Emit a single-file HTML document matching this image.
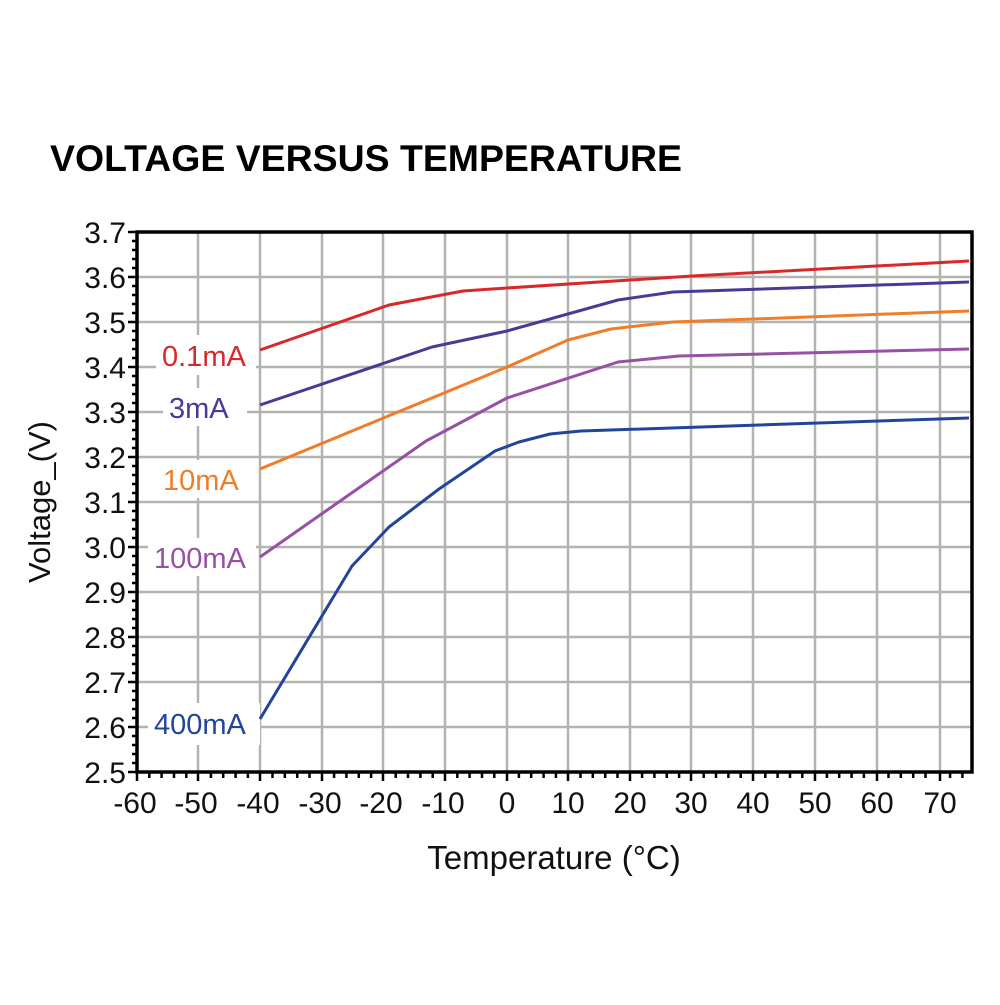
<!DOCTYPE html>
<html><head><meta charset="utf-8"><style>html,body{margin:0;padding:0;background:#fff}</style></head>
<body>
<svg width="1000" height="1000" viewBox="0 0 1000 1000" xmlns="http://www.w3.org/2000/svg" font-family="Liberation Sans, sans-serif">
<rect width="1000" height="1000" fill="#fff"/>
<text x="50" y="171" font-size="37" font-weight="bold" textLength="632" lengthAdjust="spacingAndGlyphs">VOLTAGE VERSUS TEMPERATURE</text>
<g stroke="#b3b3b0" stroke-width="2.5" fill="none">
<path d="M198 232V772M260 232V772M322 232V772M383 232V772M445 232V772M507 232V772M568 232V772M630 232V772M691 232V772M753 232V772M815 232V772M877 232V772M940 232V772"/>
<path d="M137 277H972M137 322H972M137 367H972M137 412H972M137 457H972M137 502H972M137 547H972M137 592H972M137 637H972M137 682H972M137 727H972"/>
</g>
<g fill="#fff">
<rect x="156" y="335" width="100" height="40"/>
<rect x="163" y="388" width="84" height="38"/>
<rect x="156" y="460" width="100" height="38"/>
<rect x="148" y="538" width="108" height="38"/>
<rect x="148" y="703" width="112" height="42"/>
</g>
<g fill="none" stroke-width="3" stroke-linejoin="round">
<path stroke="#d9282a" d="M260 350L389 305L463 291L507 288L692 276L969 261"/>
<path stroke="#4a3a96" d="M260 405L432 347L507 331L618 300L673 292L969 282"/>
<path stroke="#ef7d2a" d="M260 469L507 367L568 340L611 329L673 322L969 311"/>
<path stroke="#9650a6" d="M260 557L426 441L507 398L618 362L679 356L969 349"/>
<path stroke="#22459a" d="M260 719L352 566L389 527L439 489L495 451L519 442L550 434L581 431L969 418"/>
</g>
<g font-size="29">
<text x="162" y="366" fill="#d9282a">0.1mA</text>
<text x="169" y="418" fill="#4a3a96">3mA</text>
<text x="163" y="490" fill="#ef7d2a">10mA</text>
<text x="154" y="568" fill="#9650a6">100mA</text>
<text x="154" y="734" fill="#22459a">400mA</text>
</g>
<path d="M137 232H972V772H137Z" fill="none" stroke="#000" stroke-width="3.5"/>
<g stroke="#000" stroke-width="2.5">
<path d="M128 232H137M128 277H137M128 322H137M128 367H137M128 412H137M128 457H137M128 502H137M128 547H137M128 592H137M128 637H137M128 682H137M128 727H137M128 772H137"/>
<path d="M132 241H137M132 250H137M132 259H137M132 268H137M132 286H137M132 295H137M132 304H137M132 313H137M132 331H137M132 340H137M132 349H137M132 358H137M132 376H137M132 385H137M132 394H137M132 403H137M132 421H137M132 430H137M132 439H137M132 448H137M132 466H137M132 475H137M132 484H137M132 493H137M132 511H137M132 520H137M132 529H137M132 538H137M132 556H137M132 565H137M132 574H137M132 583H137M132 601H137M132 610H137M132 619H137M132 628H137M132 646H137M132 655H137M132 664H137M132 673H137M132 691H137M132 700H137M132 709H137M132 718H137M132 736H137M132 745H137M132 754H137M132 763H137"/>
<path d="M137 772V781M198 772V781M260 772V781M322 772V781M383 772V781M445 772V781M507 772V781M568 772V781M630 772V781M691 772V781M753 772V781M815 772V781M877 772V781M940 772V781"/>
</g>
<g stroke="#000" stroke-width="2.5" id="xm"></g>
<g font-size="30" fill="#111" text-anchor="end">
<text x="126" y="243">3.7</text><text x="126" y="288">3.6</text><text x="126" y="333">3.5</text><text x="126" y="378">3.4</text><text x="126" y="423">3.3</text><text x="126" y="468">3.2</text><text x="126" y="513">3.1</text><text x="126" y="558">3.0</text><text x="126" y="603">2.9</text><text x="126" y="648">2.8</text><text x="126" y="693">2.7</text><text x="126" y="738">2.6</text><text x="126" y="783">2.5</text>
</g>
<g font-size="30" fill="#111" text-anchor="middle">
<text x="135" y="813">-60</text><text x="196" y="813">-50</text><text x="258" y="813">-40</text><text x="320" y="813">-30</text><text x="381" y="813">-20</text><text x="443" y="813">-10</text><text x="507" y="813">0</text><text x="568" y="813">10</text><text x="630" y="813">20</text><text x="691" y="813">30</text><text x="753" y="813">40</text><text x="815" y="813">50</text><text x="877" y="813">60</text><text x="940" y="813">70</text>
</g>
<text x="554" y="869" font-size="33" text-anchor="middle" fill="#111">Temperature (°C)</text>
<text transform="translate(50 502) rotate(-90)" font-size="31" text-anchor="middle" fill="#111">Voltage_(V)</text>
<script>
var g=document.getElementById('xm'),d='';
for(var i=0;i<=67;i++){var x=137+i*12.32;if(i%5)d+='M'+x.toFixed(1)+' 772V778';}
var p=document.createElementNS('http://www.w3.org/2000/svg','path');p.setAttribute('d',d);g.appendChild(p);
</script>
</svg>
</body></html>
